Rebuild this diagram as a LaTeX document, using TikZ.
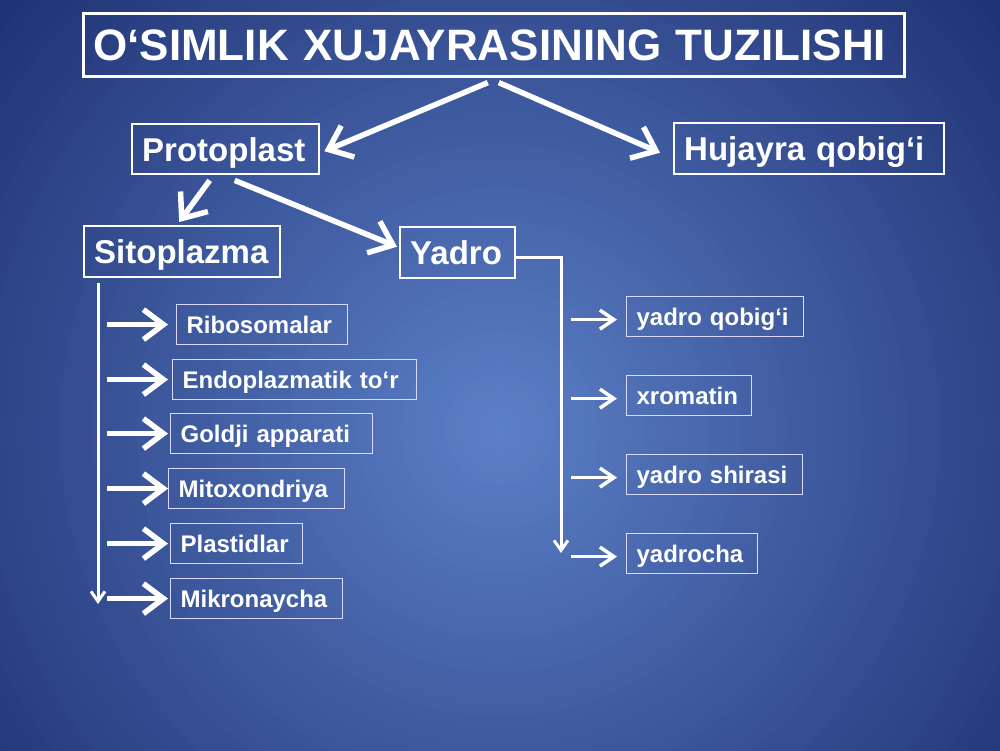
\documentclass[tikz,border=0pt]{standalone}
\usepackage{fontspec}
\setmainfont{Liberation Sans}
\usetikzlibrary{arrows.meta}
\definecolor{bgA}{HTML}{5C80C8}
\definecolor{bgE}{HTML}{1A2C6C}
\tikzset{
  boxbase/.style={text=white, align=left, anchor=north west, inner xsep=10pt, inner ysep=0pt, text depth=0pt},
  titlebox/.style={boxbase, draw=white, line width=2.6pt, font=\bfseries\fontsize{44}{48}\selectfont, text height=31.5pt},
  bigbox/.style={boxbase, draw=white, line width=2.4pt, font=\bfseries\fontsize{33}{36}\selectfont, text height=23.6pt},
  smallbox/.style={boxbase, draw=white!85!blue, line width=1.2pt, font=\bfseries\fontsize{24}{28}\selectfont, text height=17.2pt},
  bigarrow/.style={draw=white, line width=5.5pt, -{Straight Barb[length=21pt,width=34pt]}},
  midarrow/.style={draw=white, line width=5.5pt, -{Straight Barb[length=20pt,width=30pt]}},
  smallarrow/.style={draw=white, line width=3.5pt, -{Straight Barb[length=14pt,width=19pt]}},
  thinarrow/.style={draw=white, line width=3pt, -{Straight Barb[length=10pt,width=14pt]}}
}
\begin{document}
\begin{tikzpicture}[x=1pt,y=-1pt]
\useasboundingbox (0,0) rectangle (1000,750);
\begin{scope}
  \clip (0,0) rectangle (1000,750);
  \fill[bgE] (0,0) rectangle (1000,750);
  \foreach \i in {64,63,...,1}{
    \pgfmathsetmacro\p{min(100,\i*11/7.2)}
    \fill[bgE!\p!bgA] (500,430) circle[radius={\i*11pt}];
  }
\end{scope}
% boxes
\node[titlebox, text width=801pt, minimum height=63pt] (title) at (82,12) {\mbox{O‘SIMLIK XUJAYRASINING TUZILISHI}};
\node[bigbox, text width=167pt, minimum height=50pt] (protoplast) at (131,123) {\mbox{Protoplast}};
\node[bigbox, text width=250pt, minimum height=51pt] (hujayra) at (673,122) {\mbox{Hujayra qobig‘i}};
\node[bigbox, text width=176pt, minimum height=51pt] (sito) at (83,225) {\mbox{Sitoplazma}};
\node[bigbox, text width=95pt, minimum height=51pt] (yadro) at (399,226) {\mbox{Yadro}};
\node[smallbox, text width=151pt, minimum height=40pt] (ribo) at (176,304) {\mbox{Ribosomalar}};
\node[smallbox, text width=224pt, minimum height=40pt] (endo) at (172,359) {\mbox{Endoplazmatik to‘r}};
\node[smallbox, text width=182pt, minimum height=40pt] (goldji) at (170,413) {\mbox{Goldji apparati}};
\node[smallbox, text width=156pt, minimum height=40pt] (mito) at (168,468) {\mbox{Mitoxondriya}};
\node[smallbox, text width=112pt, minimum height=40pt] (plast) at (170,523) {\mbox{Plastidlar}};
\node[smallbox, text width=152pt, minimum height=40pt] (mikro) at (170,578) {\mbox{Mikronaycha}};
\node[smallbox, text width=157pt, minimum height=40pt] (yq) at (626,296) {\mbox{yadro qobig‘i}};
\node[smallbox, text width=105pt, minimum height=40pt] (xrom) at (626,375) {\mbox{xromatin}};
\node[smallbox, text width=156pt, minimum height=40pt] (ysh) at (626,454) {\mbox{yadro shirasi}};
\node[smallbox, text width=111pt, minimum height=40pt] (ych) at (626,533) {\mbox{yadrocha}};
% helper coordinates
\coordinate (sitoend) at (98,604);
\coordinate (yadroend) at (561,553);
\coordinate (lx) at (107,0);
\coordinate (ltip) at (168,0);
\coordinate (rx) at (571,0);
\coordinate (rtip) at (617,0);
% connectors
\draw[bigarrow] ([xshift=-6pt,yshift=-5pt]title.south) -- ([xshift=4pt,yshift=-2pt]protoplast.east);
\draw[bigarrow] ([xshift=5pt,yshift=-5pt]title.south) -- ([xshift=-13pt,yshift=-4pt]hujayra.west);
\draw[bigarrow] ([xshift=-16pt,yshift=-5pt]protoplast.south) -- ([xshift=-3pt,yshift=3pt]sito.north);
\draw[bigarrow] ([xshift=9pt,yshift=-5pt]protoplast.south) -- ([xshift=-2pt,yshift=6pt]yadro.west);
\draw[thinarrow] ([xshift=15pt,yshift=-5pt]sito.south west) -- (sitoend);
\draw[thinarrow] ([yshift=-5pt]yadro.east) -| (yadroend);
\foreach \n in {ribo,endo,goldji,mito,plast,mikro}{
  \draw[midarrow] (lx |- \n.west) -- (ltip |- \n.west);
}
\foreach \n in {yq,xrom,ysh,ych}{
  \draw[smallarrow] ([yshift=-3pt]rx |- \n.west) -- ([yshift=-3pt]rtip |- \n.west);
}
\end{tikzpicture}
\end{document}
